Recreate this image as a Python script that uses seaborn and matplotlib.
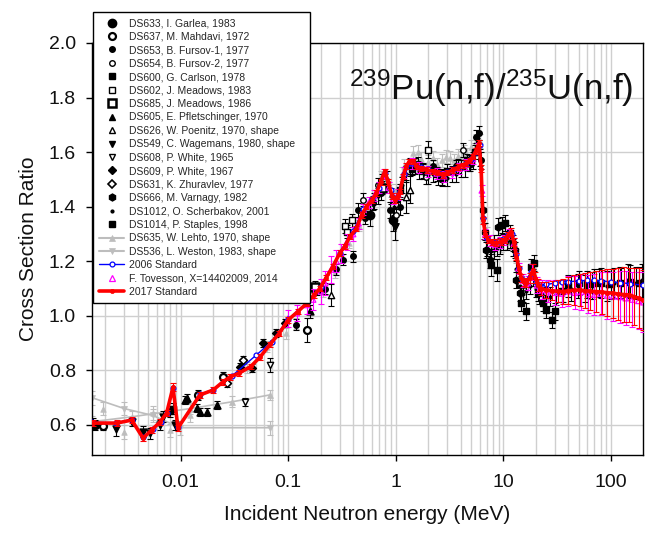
import numpy as np
import pandas as pd
import matplotlib
matplotlib.use("Agg")
import matplotlib.pyplot as plt
import seaborn as sns
from matplotlib.lines import Line2D
from matplotlib.ticker import FixedLocator, FixedFormatter, LogLocator, NullFormatter

# ---------------- data ----------------
x_ticks = [0.01, 0.1, 1, 10, 100]
x_tick_labels = ["0.01", "0.1", "1", "10", "100"]
y_ticks = [0.6, 0.8, 1.0, 1.2, 1.4, 1.6, 1.8, 2.0]
y_tick_labels = ["0.6", "0.8", "1.0", "1.2", "1.4", "1.6", "1.8", "2.0"]

# 2017 Standard
std17_E = [0.00152, 0.00255, 0.00351, 0.00447, 0.00539, 0.00643, 0.00741, 0.00849, 0.00944, 0.0151,
           0.0200, 0.0247, 0.0287, 0.035, 0.045, 0.055, 0.0675, 0.082, 0.100, 0.122,
           0.148, 0.172, 0.196, 0.225, 0.259, 0.301, 0.335, 0.373, 0.430, 0.480,
           0.533, 0.600, 0.660, 0.720, 0.789, 0.850, 0.920, 0.977, 1.04, 1.09,
           1.17, 1.25, 1.33, 1.43, 1.55, 1.73, 1.95, 2.20, 2.45, 2.73,
           3.00, 3.39, 3.80, 4.20, 4.52, 4.85, 5.20, 5.55, 5.93, 6.20,
           6.46, 6.80, 7.18, 7.80, 8.60, 9.40, 10.3, 11.0, 11.8, 12.5,
           13.2, 14.0, 14.7, 15.5, 16.3, 17.5, 18.8, 19.8, 20.9, 22.5,
           25.0, 28.0, 32.0, 35.6, 40.0, 45.0, 51.0, 57.0, 64.0, 72.8,
           82.0, 92.0, 104, 117, 132, 148, 165, 182, 197]
std17_R = [0.607, 0.607, 0.618, 0.552, 0.582, 0.611, 0.644, 0.738, 0.589, 0.710,
           0.728, 0.758, 0.776, 0.790, 0.815, 0.850, 0.895, 0.935, 0.985, 1.015,
           1.045, 1.075, 1.100, 1.140, 1.180, 1.230, 1.255, 1.290, 1.320, 1.370,
           1.400, 1.425, 1.450, 1.490, 1.530, 1.490, 1.440, 1.425, 1.440, 1.455,
           1.510, 1.550, 1.565, 1.566, 1.550, 1.540, 1.535, 1.530, 1.525, 1.517,
           1.525, 1.535, 1.545, 1.552, 1.561, 1.570, 1.584, 1.605, 1.633, 1.540,
           1.350, 1.300, 1.279, 1.270, 1.268, 1.272, 1.279, 1.295, 1.309, 1.270,
           1.217, 1.170, 1.138, 1.125, 1.120, 1.140, 1.169, 1.140, 1.114, 1.100,
           1.095, 1.092, 1.090, 1.089, 1.092, 1.094, 1.095, 1.092, 1.090, 1.089,
           1.087, 1.085, 1.083, 1.080, 1.078, 1.077, 1.070, 1.064, 1.058]
std17_dR = [0.012, 0.012, 0.012, 0.012, 0.012, 0.012, 0.012, 0.015, 0.012, 0.010,
            0.010, 0.010, 0.010, 0.010, 0.010, 0.010, 0.010, 0.010, 0.010, 0.010,
            0.010, 0.010, 0.010, 0.010, 0.010, 0.010, 0.010, 0.010, 0.010, 0.010,
            0.010, 0.010, 0.010, 0.010, 0.010, 0.010, 0.010, 0.010, 0.010, 0.010,
            0.010, 0.010, 0.010, 0.010, 0.010, 0.010, 0.010, 0.010, 0.010, 0.010,
            0.010, 0.010, 0.010, 0.010, 0.010, 0.010, 0.010, 0.012, 0.012, 0.012,
            0.012, 0.012, 0.012, 0.012, 0.012, 0.012, 0.012, 0.012, 0.014, 0.014,
            0.014, 0.014, 0.015, 0.015, 0.016, 0.018, 0.020, 0.020, 0.022, 0.025,
            0.030, 0.035, 0.040, 0.045, 0.050, 0.055, 0.060, 0.065, 0.070, 0.075,
            0.080, 0.085, 0.090, 0.095, 0.100, 0.100, 0.105, 0.110, 0.110]

# 2006 Standard
std06_E = [0.0015, 0.0025, 0.0035, 0.0045, 0.0055, 0.0065, 0.0075, 0.0085, 0.0095, 0.015,
           0.020, 0.030, 0.050, 0.070, 0.100, 0.150, 0.200, 0.300, 0.400, 0.500,
           0.600, 0.700, 0.800, 0.900, 1.00, 1.20, 1.40, 1.70, 2.00, 2.50,
           3.00, 3.50, 4.00, 4.50, 5.00, 5.50, 6.00, 6.50, 7.00, 8.00,
           9.00, 10.0, 11.0, 12.0, 13.0, 14.0, 15.0, 16.0, 18.0, 20.0,
           22.0, 25.0, 30.0, 35.0, 40.0, 50.0, 60.0, 70.0, 80.0, 100,
           120, 150, 200]
std06_R = [0.610, 0.608, 0.620, 0.555, 0.585, 0.612, 0.645, 0.735, 0.592, 0.712,
           0.730, 0.780, 0.855, 0.905, 0.988, 1.048, 1.105, 1.232, 1.310, 1.390,
           1.428, 1.470, 1.525, 1.460, 1.432, 1.520, 1.562, 1.545, 1.537, 1.522,
           1.527, 1.540, 1.550, 1.562, 1.575, 1.600, 1.625, 1.360, 1.285, 1.272,
           1.275, 1.282, 1.300, 1.300, 1.225, 1.175, 1.135, 1.125, 1.160, 1.125,
           1.110, 1.115, 1.120, 1.125, 1.125, 1.128, 1.130, 1.130, 1.128, 1.125,
           1.122, 1.118, 1.112]

# F. Tovesson 2014
tov_E = [0.10, 0.12, 0.15, 0.17, 0.20, 0.22, 0.25, 0.28, 0.31, 0.35,
         0.40, 0.45, 0.50, 0.56, 0.63, 0.70, 0.78, 0.86, 0.95, 1.05,
         1.20, 1.40, 1.65, 2.0, 2.4, 2.8, 3.3, 3.9, 4.5, 5.2,
         5.8, 6.3, 6.8, 7.5, 8.3, 9.2, 10.2, 11.3, 12.5, 13.8,
         15.2, 16.8, 18.5, 20.5, 23, 26, 30, 35, 40, 46,
         53, 61, 70, 80, 92, 105, 120, 137, 157, 180, 200]
tov_R = [0.990, 1.010, 1.040, 1.060, 1.090, 1.120, 1.170, 1.200, 1.230, 1.270,
         1.300, 1.340, 1.390, 1.415, 1.440, 1.470, 1.520, 1.470, 1.430, 1.445,
         1.525, 1.560, 1.545, 1.530, 1.522, 1.512, 1.525, 1.540, 1.555, 1.575,
         1.615, 1.460, 1.300, 1.275, 1.262, 1.268, 1.278, 1.300, 1.265, 1.175,
         1.130, 1.120, 1.160, 1.112, 1.095, 1.090, 1.085, 1.082, 1.090, 1.085,
         1.088, 1.080, 1.078, 1.082, 1.075, 1.072, 1.070, 1.065, 1.060, 1.055, 1.050]
tov_dR = [0.030, 0.030, 0.035, 0.040, 0.045, 0.045, 0.050, 0.040, 0.035, 0.030,
          0.025, 0.020, 0.020, 0.020, 0.020, 0.020, 0.020, 0.020, 0.020, 0.020,
          0.020, 0.020, 0.020, 0.020, 0.020, 0.020, 0.020, 0.020, 0.020, 0.020,
          0.020, 0.020, 0.020, 0.020, 0.020, 0.020, 0.020, 0.020, 0.020, 0.020,
          0.025, 0.025, 0.030, 0.030, 0.035, 0.040, 0.045, 0.050, 0.055, 0.060,
          0.065, 0.070, 0.075, 0.080, 0.085, 0.090, 0.095, 0.100, 0.100, 0.105, 0.110]

# shape data (gray)
lehto_E = [0.0015, 0.0035, 0.0080, 0.0122, 0.030, 0.067]
lehto_R = [0.612, 0.630, 0.650, 0.660, 0.685, 0.710]
lehto_dR = [0.020, 0.020, 0.020, 0.020, 0.020, 0.020]
weston_E = [0.0015, 0.0030, 0.0055, 0.0099, 0.067]
weston_R = [0.700, 0.660, 0.635, 0.590, 0.590]
weston_dR = [0.025, 0.025, 0.025, 0.025, 0.025]
gray_E = [0.0019, 0.0030, 0.0055, 0.0080, 0.0122, 0.041, 0.063, 0.096, 0.119, 0.16,
          0.21, 0.27, 0.37, 0.45, 0.55, 0.65, 0.73, 0.81, 0.90, 1.0,
          1.15, 1.2, 1.34, 1.44, 1.6, 1.7, 2.0, 2.2, 2.4, 2.7,
          2.93, 3.2, 3.5, 3.8, 4.0, 4.3, 4.6, 5.0, 5.3, 5.6,
          6.0, 7.0, 8.0, 9.5, 11, 13, 15]
gray_R = [0.660, 0.575, 0.645, 0.580, 0.637, 0.810, 0.887, 0.936, 0.973, 1.020,
          1.090, 1.160, 1.267, 1.330, 1.390, 1.440, 1.510, 1.487, 1.460, 1.460,
          1.520, 1.550, 1.548, 1.597, 1.600, 1.575, 1.565, 1.580, 1.555, 1.570,
          1.584, 1.580, 1.570, 1.585, 1.580, 1.600, 1.590, 1.620, 1.610, 1.640,
          1.640, 1.300, 1.250, 1.260, 1.270, 1.220, 1.100]
gray_dR = [0.025, 0.025, 0.025, 0.025, 0.025, 0.020, 0.020, 0.020, 0.020, 0.020,
           0.020, 0.020, 0.020, 0.020, 0.020, 0.020, 0.020, 0.020, 0.025, 0.025,
           0.025, 0.025, 0.025, 0.025, 0.025, 0.025, 0.025, 0.025, 0.025, 0.025,
           0.025, 0.025, 0.025, 0.025, 0.025, 0.025, 0.025, 0.025, 0.025, 0.025,
           0.025, 0.025, 0.025, 0.025, 0.025, 0.025, 0.030]

# experimental data sets (black)
garlea_E = [0.0016, 0.57, 0.94, 1.62, 2.7, 4.9]
garlea_R = [0.600, 1.370, 1.350, 1.554, 1.505, 1.560]
garlea_dR = [0.020, 0.040, 0.040, 0.030, 0.030, 0.030]
mahdavi_E = [0.0019, 0.0145, 0.0247, 0.148]
mahdavi_R = [0.595, 0.710, 0.776, 0.948]
mahdavi_dR = [0.012, 0.020, 0.020, 0.045]
fursov1_E = [0.119, 0.22, 0.28, 0.32, 0.40, 0.446, 0.52, 0.61, 0.72, 0.88,
             1.09, 2.2, 3.6, 5.6, 5.96, 6.2]
fursov1_R = [0.967, 1.100, 1.170, 1.205, 1.218, 1.389, 1.360, 1.413, 1.450, 1.389,
             1.400, 1.548, 1.548, 1.657, 1.670, 1.570]
fursov1_dR = [0.020, 0.020, 0.020, 0.020, 0.020, 0.025, 0.025, 0.025, 0.025, 0.030,
              0.030, 0.025, 0.025, 0.025, 0.025, 0.030]
fursov2_E = [0.50, 0.68, 1.01, 1.90, 4.2]
fursov2_R = [1.426, 1.480, 1.370, 1.510, 1.609]
fursov2_dR = [0.025, 0.025, 0.030, 0.025, 0.025]
carlson_E = [0.0079, 0.0085, 1.1, 1.4, 1.8, 2.4, 3.0, 3.8, 4.6, 5.4,
             7.7, 8.8, 9.6, 10.3, 11.5]
carlson_R = [0.650, 0.660, 1.460, 1.540, 1.530, 1.520, 1.530, 1.550, 1.570, 1.600,
             1.187, 1.169, 1.334, 1.340, 1.303]
carlson_dR = [0.020, 0.020, 0.025, 0.025, 0.025, 0.025, 0.025, 0.025, 0.025, 0.025,
              0.040, 0.040, 0.030, 0.030, 0.030]
meadows83_E = [0.183, 0.34, 0.35, 0.39, 1.99]
meadows83_R = [1.095, 1.330, 1.309, 1.350, 1.609]
meadows83_dR = [0.020, 0.025, 0.025, 0.025, 0.030]
meadows86_E = [0.177, 0.75, 14.7]
meadows86_R = [1.107, 1.470, 1.120]
meadows86_dR = [0.020, 0.025, 0.025]
pfl_E = [0.011, 0.0114, 0.0141, 0.0151, 0.0174, 0.0216, 0.159]
pfl_R = [0.692, 0.700, 0.662, 0.649, 0.649, 0.673, 1.016]
pfl_dR = [0.015, 0.015, 0.015, 0.015, 0.015, 0.015, 0.025]
poenitz_E = [0.25, 1.25, 1.34]
poenitz_R = [1.077, 1.437, 1.462]
poenitz_dR = [0.040, 0.060, 0.050]
wagemans_E = [0.00152, 0.0025, 0.0035, 0.0045, 0.0052, 0.0064, 0.0069, 0.0089, 0.98]
wagemans_R = [0.605, 0.585, 0.610, 0.575, 0.570, 0.600, 0.630, 0.600, 1.327]
wagemans_dR = [0.020, 0.025, 0.015, 0.020, 0.020, 0.020, 0.020, 0.020, 0.050]
white65_E = [0.0395, 0.0675]
white65_R = [0.685, 0.820]
white65_dR = [0.015, 0.025]
white67_E = [0.0355, 0.0456, 0.0585, 0.0776, 0.093]
white67_R = [0.814, 0.810, 0.900, 0.936, 0.973]
white67_dR = [0.015, 0.015, 0.015, 0.015, 0.015]
zhur_E = [0.0267, 0.038]
zhur_R = [0.754, 0.838]
zhur_dR = [0.015, 0.015]
varnagy_E = [6.44, 6.7, 6.9, 7.45, 8.2, 8.9, 12.3, 12.8, 13.2, 14.1]
varnagy_R = [1.389, 1.309, 1.242, 1.205, 1.267, 1.327, 1.267, 1.242, 1.132, 1.083]
varnagy_dR = [0.030, 0.030, 0.030, 0.030, 0.030, 0.030, 0.030, 0.030, 0.030, 0.030]
scherb_E = [0.62, 0.68, 0.75, 0.82, 0.9, 0.97, 1.05, 1.15, 1.25, 1.35,
            1.5, 1.65, 1.8, 2.0, 2.2, 2.45, 2.7, 3.0, 3.3, 3.6,
            4.0, 4.4, 4.8, 5.2, 5.7, 6.1, 6.6, 7.1, 7.6, 8.1,
            8.7, 9.3, 10.0, 10.7, 11.5, 12.3, 13.2, 14.2, 15.2, 16.3,
            17.5, 18.7, 20, 21.5, 23, 25, 27, 31, 36, 42,
            49, 57, 67, 78, 91, 106, 124, 145, 170, 195]
scherb_R = [1.420, 1.440, 1.490, 1.500, 1.440, 1.400, 1.420, 1.480, 1.520, 1.550,
            1.550, 1.530, 1.530, 1.515, 1.520, 1.510, 1.510, 1.505, 1.520, 1.520,
            1.540, 1.540, 1.560, 1.570, 1.620, 1.580, 1.310, 1.250, 1.240, 1.240,
            1.250, 1.255, 1.270, 1.270, 1.280, 1.250, 1.170, 1.110, 1.080, 1.090,
            1.110, 1.140, 1.100, 1.080, 1.080, 1.070, 1.070, 1.080, 1.090, 1.100,
            1.110, 1.100, 1.110, 1.120, 1.110, 1.120, 1.120, 1.130, 1.120, 1.130]
scherb_dR = [0.030, 0.030, 0.030, 0.030, 0.030, 0.030, 0.030, 0.030, 0.030, 0.030,
             0.030, 0.030, 0.030, 0.030, 0.030, 0.030, 0.030, 0.030, 0.030, 0.030,
             0.030, 0.030, 0.030, 0.030, 0.030, 0.030, 0.030, 0.030, 0.030, 0.030,
             0.030, 0.030, 0.030, 0.030, 0.030, 0.030, 0.030, 0.030, 0.030, 0.030,
             0.030, 0.030, 0.030, 0.035, 0.035, 0.035, 0.035, 0.040, 0.040, 0.045,
             0.045, 0.050, 0.050, 0.050, 0.055, 0.055, 0.055, 0.060, 0.060, 0.060]
staples_E = [14.7, 16.3, 18.0, 19.4, 20.9, 23.2, 25, 28, 30, 35,
             40, 50, 60, 70, 80, 100, 120, 150, 180]
staples_R = [1.047, 1.016, 1.180, 1.193, 1.083, 1.047, 1.022, 0.985, 1.016, 1.090,
             1.110, 1.120, 1.115, 1.120, 1.120, 1.115, 1.120, 1.125, 1.120]
staples_dR = [0.030, 0.030, 0.030, 0.030, 0.030, 0.030, 0.030, 0.030, 0.030, 0.040,
              0.040, 0.045, 0.050, 0.050, 0.055, 0.055, 0.060, 0.060, 0.060]

legend_labels = ["DS633, I. Garlea, 1983", "DS637, M. Mahdavi, 1972", "DS653, B. Fursov-1, 1977",
                 "DS654, B. Fursov-2, 1977", "DS600, G. Carlson, 1978", "DS602, J. Meadows, 1983",
                 "DS685, J. Meadows, 1986", "DS605, E. Pfletschinger, 1970", "DS626, W. Poenitz, 1970, shape",
                 "DS549, C. Wagemans, 1980, shape", "DS608, P. White, 1965", "DS609, P. White, 1967",
                 "DS631, K. Zhuravlev, 1977", "DS666, M. Varnagy, 1982", "DS1012, O. Scherbakov, 2001",
                 "DS1014, P. Staples, 1998", "DS635, W. Lehto, 1970, shape", "DS536, L. Weston, 1983, shape",
                 "2006 Standard", "F. Tovesson, X=14402009, 2014", "2017 Standard"]

# ---------------- style ----------------
sns.set_theme(style="white")
plt.rcParams["font.family"] = ["Liberation Sans", "DejaVu Sans"]
plt.rcParams["mathtext.default"] = "regular"

GRAY = "#bdbdbd"
fig = plt.figure(figsize=(6.48, 5.4), dpi=100)
ax = fig.add_axes([92 / 648, 1 - 455 / 540, 551 / 648, 412 / 540])
ax.set_xscale("log")
ax.set_xlim(0.0015, 198)
ax.set_ylim(0.49, 2.0)


def draw(E, R, dR, marker, ms, face, edge, ecolor, z, mew=1.0, line=None, lw=1.0, cap=2.5):
    if dR is not None:
        ax.errorbar(E, R, yerr=dR, fmt="none", ecolor=ecolor, elinewidth=0.8,
                    capsize=cap, capthick=0.8, zorder=z)
    if line is not None:
        sns.lineplot(x=E, y=R, ax=ax, sort=False, estimator=None, color=line, lw=lw,
                     marker=marker, markersize=ms, markerfacecolor=face,
                     markeredgecolor=edge, markeredgewidth=mew, zorder=z + 0.1, legend=False)
    else:
        sns.scatterplot(x=E, y=R, ax=ax, marker=marker, s=ms ** 2, color=face,
                        edgecolor=edge, linewidth=mew, zorder=z + 0.1, legend=False)


# gray shape data
draw(gray_E, gray_R, gray_dR, "^", 4, GRAY, GRAY, GRAY, 2, mew=0.5)
draw(lehto_E, lehto_R, lehto_dR, "^", 4, GRAY, GRAY, GRAY, 2, mew=0.5, line=GRAY, lw=1.2)
draw(weston_E, weston_R, weston_dR, "v", 4, GRAY, GRAY, GRAY, 2, mew=0.5, line=GRAY, lw=1.2)

# black experimental data
K = "black"
draw(garlea_E, garlea_R, garlea_dR, "o", 6, K, K, K, 3)
draw(mahdavi_E, mahdavi_R, mahdavi_dR, "o", 5, "white", K, K, 3, mew=1.6)
draw(fursov1_E, fursov1_R, fursov1_dR, "o", 4, K, K, K, 3)
draw(fursov2_E, fursov2_R, fursov2_dR, "o", 4, "white", K, K, 3, mew=1.0)
draw(carlson_E, carlson_R, carlson_dR, "s", 4.5, K, K, K, 3)
draw(meadows83_E, meadows83_R, meadows83_dR, "s", 4.5, "white", K, K, 3, mew=1.0)
draw(meadows86_E, meadows86_R, meadows86_dR, "s", 5.5, "white", K, K, 3, mew=1.8)
draw(pfl_E, pfl_R, pfl_dR, "^", 5, K, K, K, 3)
draw(poenitz_E, poenitz_R, poenitz_dR, "^", 4.5, "white", K, K, 3, mew=1.0)
draw(wagemans_E, wagemans_R, wagemans_dR, "v", 5, K, K, K, 3)
draw(white65_E, white65_R, white65_dR, "v", 4.5, "white", K, K, 3, mew=1.0)
draw(white67_E, white67_R, white67_dR, "D", 4, K, K, K, 3)
draw(zhur_E, zhur_R, zhur_dR, "D", 4, "white", K, K, 3, mew=1.2)
draw(varnagy_E, varnagy_R, varnagy_dR, "h", 5, K, K, K, 3)
draw(scherb_E, scherb_R, scherb_dR, "o", 2, K, K, K, 3)
draw(staples_E, staples_R, staples_dR, "s", 5, K, K, K, 3)

# evaluations / recent data
draw(tov_E, tov_R, tov_dR, "^", 4, "none", "magenta", "magenta", 4, mew=0.9)
draw(std06_E, std06_R, None, "o", 3.5, "white", "blue", "blue", 5, mew=0.9, line="blue", lw=1.0)
draw(std17_E, std17_R, std17_dR, "o", 3, "red", "red", "red", 6, mew=0.5, line="red", lw=2.6)

# ---------------- axes cosmetics ----------------
ax.xaxis.set_major_locator(FixedLocator(x_ticks))
ax.xaxis.set_major_formatter(FixedFormatter(x_tick_labels))
ax.xaxis.set_minor_locator(LogLocator(base=10, subs=np.arange(2, 10)))
ax.xaxis.set_minor_formatter(NullFormatter())
ax.yaxis.set_major_locator(FixedLocator(y_ticks))
ax.yaxis.set_major_formatter(FixedFormatter(y_tick_labels))

ax.set_axisbelow(True)
ax.grid(which="both", axis="x", color="#cfcfcf", lw=1.0)
ax.grid(which="major", axis="y", color="#cfcfcf", lw=1.0)
for sp in ax.spines.values():
    sp.set_color("black")
    sp.set_linewidth(1.0)
ax.tick_params(which="major", direction="out", length=4.5, width=1.0, color="black",
               bottom=True, left=True, labelsize=14, labelcolor="#111111")
ax.tick_params(axis="x", which="major", pad=9)
ax.tick_params(axis="y", which="major", pad=7)
ax.tick_params(which="minor", length=0)

ax.set_xlabel("Incident Neutron energy (MeV)", fontsize=15, labelpad=10, color="#111111")
ax.set_ylabel("Cross Section Ratio", fontsize=15, labelpad=8, color="#111111")

ax.text(0.725, 0.862, "$^{239}$Pu(n,f)/$^{235}$U(n,f)", transform=ax.transAxes,
        ha="center", va="baseline", fontsize=25, color="#111111", zorder=10)

# ---------------- legend ----------------
def H(marker, ms, face, edge, mew=1.0, ls="none", color="black", lw=1.0):
    return Line2D([], [], ls=ls, color=color, lw=lw, marker=marker, markersize=ms,
                  markerfacecolor=face, markeredgecolor=edge, markeredgewidth=mew)

handles = [
    H("o", 6, K, K), H("o", 5, "white", K, 1.6), H("o", 4, K, K), H("o", 4, "white", K),
    H("s", 4.5, K, K), H("s", 4.5, "white", K), H("s", 5.5, "white", K, 1.8),
    H("^", 5, K, K), H("^", 4.5, "white", K), H("v", 5, K, K), H("v", 4.5, "white", K),
    H("D", 4, K, K), H("D", 4, "white", K, 1.2), H("h", 5, K, K), H("o", 2, K, K),
    H("s", 5, K, K),
    H("^", 4, GRAY, GRAY, 0.5, ls="-", color=GRAY, lw=1.5),
    H("v", 4, GRAY, GRAY, 0.5, ls="-", color=GRAY, lw=1.5),
    H("o", 3.5, "white", "blue", 0.9, ls="-", color="blue", lw=1.0),
    H("^", 4, "none", "magenta", 0.9),
    H("o", 3, "red", "red", 0.5, ls="-", color="red", lw=2.6),
]
leg = ax.legend(handles, legend_labels, loc="upper left", mode="expand",
                bbox_to_anchor=(93 / 648, 1 - 303 / 540, 217 / 648, 291 / 540),
                bbox_transform=fig.transFigure, borderaxespad=0.0, fontsize=7.5,
                frameon=True, fancybox=False, framealpha=1.0, edgecolor="black",
                handlelength=2.4, handletextpad=0.5, borderpad=0.6, labelspacing=0.33)
leg.get_frame().set_linewidth(1.0)
leg.set_zorder(20)

fig.savefig("out.png", dpi=100, facecolor="white")
